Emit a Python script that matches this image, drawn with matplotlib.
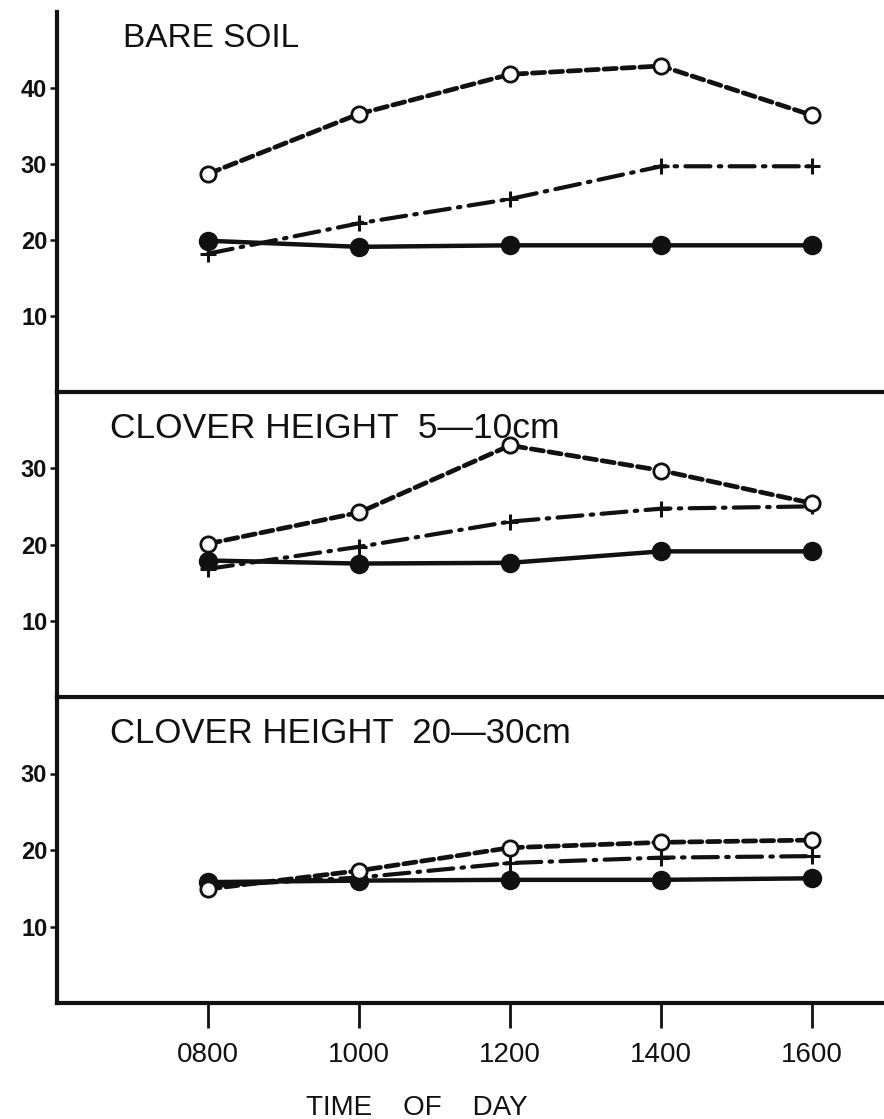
import matplotlib
matplotlib.use("Agg")
import matplotlib.pyplot as plt
from matplotlib import font_manager

# ---- data -------------------------------------------------------------
times = [800, 1000, 1200, 1400, 1600]
time_labels = ["0800", "1000", "1200", "1400", "1600"]

panel_titles = ["BARE SOIL", "CLOVER HEIGHT  5—10cm", "CLOVER HEIGHT  20—30cm"]
panel_ylims = [(0, 50), (0, 40), (0, 40)]
panel_yticks = [[10, 20, 30, 40], [10, 20, 30], [10, 20, 30]]

# open circles, dashed line
open_bare = [28.7, 36.6, 41.8, 42.9, 36.4]
open_clover_short = [20.1, 24.2, 33.0, 29.7, 25.4]
open_clover_tall = [14.9, 17.3, 20.3, 21.0, 21.3]

# plus signs, dash-dot line
plus_bare = [18.2, 22.2, 25.4, 29.7, 29.7]
plus_clover_short = [16.8, 19.7, 23.0, 24.7, 25.0]
plus_clover_tall = [15.3, 16.4, 18.3, 19.0, 19.2]

# filled circles, solid line
fill_bare = [19.9, 19.1, 19.3, 19.3, 19.3]
fill_clover_short = [17.9, 17.5, 17.6, 19.1, 19.1]
fill_clover_tall = [15.8, 16.0, 16.1, 16.1, 16.3]

open_series = [open_bare, open_clover_short, open_clover_tall]
plus_series = [plus_bare, plus_clover_short, plus_clover_tall]
fill_series = [fill_bare, fill_clover_short, fill_clover_tall]

# ---- fonts ------------------------------------------------------------
installed = {f.name for f in font_manager.fontManager.ttflist}
title_font = next((f for f in ["Liberation Sans Narrow", "Liberation Sans", "DejaVu Sans"]
                   if f in installed), "DejaVu Sans")
tick_font = next((f for f in ["Liberation Sans", "DejaVu Sans"] if f in installed), "DejaVu Sans")
narrow = title_font == "Liberation Sans Narrow"

W, H = 884, 1119
fig = plt.figure(figsize=(W / 100, H / 100), dpi=100)
fig.patch.set_facecolor("white")

# panel extents in pixels (top, bottom)
left_px = 57
panel_px = [(12, 392), (392, 697), (697, 1003)]
if narrow:
    title_pos = [(123, 47, 28), (110, 438, 27), (110, 743, 27)]
else:
    title_pos = [(123, 47, 24), (110, 438, 25.5), (110, 743, 25)]

INK = "#111111"
axes = []
for i, (top, bot) in enumerate(panel_px):
    ax = fig.add_axes([left_px / W, 1 - bot / H, (W - left_px) / W, (bot - top) / H])
    ax.set_xlim(600, 1695)
    ax.set_ylim(*panel_ylims[i])
    ax.set_facecolor("none")
    for s in ["top", "right"]:
        ax.spines[s].set_visible(False)
    for s in ["left", "bottom"]:
        ax.spines[s].set_linewidth(3.0)
        ax.spines[s].set_color(INK)
        ax.spines[s].set_capstyle("projecting")

    ax.set_yticks(panel_yticks[i])
    ax.set_yticklabels([str(v) for v in panel_yticks[i]], fontsize=17,
                       fontweight="bold", family=tick_font, color=INK)
    ax.tick_params(axis="y", direction="out", length=5, width=1.8, pad=2, colors=INK)

    if i < 2:
        ax.set_xticks([])
    else:
        ax.set_xticks(times)
        ax.set_xticklabels(time_labels, fontsize=20, family=tick_font, color=INK)
        ax.tick_params(axis="x", direction="out", length=18, width=2.0, pad=10, colors=INK)

    # dashed line with open circles
    ln, = ax.plot(times, open_series[i], color=INK, lw=3.4, marker="o", ms=11,
                  mfc="white", mec=INK, mew=2.0, zorder=4, solid_capstyle="round")
    ln.set_dashes((2.6, 1.2))
    ln.set_dash_capstyle("round")

    # dash-dot line with plus signs
    lp, = ax.plot(times, plus_series[i], color=INK, lw=3.0, marker="+", ms=12,
                  mew=2.2, zorder=3)
    lp.set_dashes((6.0, 2.0, 0.6, 2.0))
    lp.set_dash_capstyle("round")

    # solid line with filled circles
    ax.plot(times, fill_series[i], color=INK, lw=3.2, marker="o", ms=13,
            mfc=INK, mec=INK, zorder=2)

    tx, ty, fs = title_pos[i]
    fig.text(tx / W, 1 - ty / H, panel_titles[i], fontsize=fs, family=title_font,
             color=INK, va="baseline", ha="left")
    axes.append(ax)

fig.text(417 / W, 1 - 1115 / H, "TIME    OF    DAY", fontsize=20, family=tick_font,
         color=INK, va="baseline", ha="center")

fig.savefig("out.png", dpi=100, facecolor="white")
